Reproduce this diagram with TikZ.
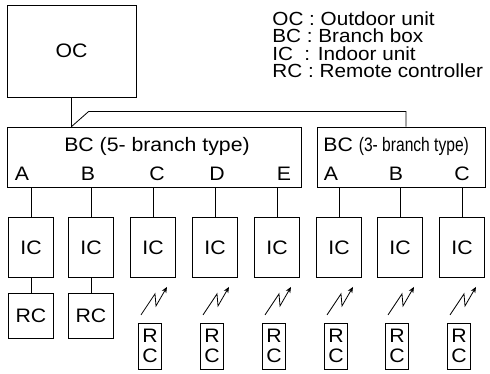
\documentclass[tikz,border=0pt]{standalone}
\usepackage{fontspec}
\setmainfont[FakeStretch=1.09]{Liberation Sans}
\newfontfamily\narrowfont[FakeStretch=0.8]{Liberation Sans}
\usetikzlibrary{arrows.meta,positioning}

\begin{document}
\begin{tikzpicture}[x=1pt, y=-1pt, line width=0.8pt,
    every node/.style={font=\fontsize{19.5}{20}\selectfont, inner sep=0pt},
    unit/.style={draw, minimum width=45pt, minimum height=60pt},
    remote/.style={draw, minimum width=45pt, minimum height=45pt},
    smallrc/.style={draw, minimum width=23pt, minimum height=46pt, align=center},
    branch/.style={draw, minimum height=60pt},
    wave/.style={-{Stealth[length=6pt,width=5pt]}, line width=0.8pt}]
  \useasboundingbox (0,0) rectangle (490,374);

  \node[draw, minimum width=129pt, minimum height=92pt] (OC) at (71.5,51) {OC};
  \node[anchor=north west, align=left, font=\fontsize{19}{17.5}\selectfont] (key) at (272,11)
    {OC : Outdoor unit\\BC : Branch box\\\makebox[32pt][l]{IC}: Indoor unit\\RC : Remote controller};

  % branch boxes
  \node[branch, minimum width=294pt] (BC5) at (154,157) {};
  \node[branch, minimum width=168pt] (BC3) at (401,157) {};
  \node[anchor=base] (title5) at (157,152) {BC (5- branch type)};
  \node[anchor=base west] (title3) at (323,152) {BC {\narrowfont(3- branch type)}};
  \foreach \p/\x in {A/22,B/88,C/157,D/217,E/284}
    \node[anchor=base] (p5\p) at (\x,181) {\p};
  \foreach \p/\x in {A/331,B/396,C/462}
    \node[anchor=base] (p3\p) at (\x,181) {\p};

  \coordinate (split) at (OC.south |- BC5.north);
  \draw (OC.south) -- (split);
  \draw (split) -- ++(17,-15) -| ([xshift=5pt]BC3.north);

  % indoor units
  \foreach \n/\x in {1/31,2/91,3/153,4/215,5/277,6/339,7/400,8/462}
    \node[unit] (IC\n) at (\x,247.5) {IC};
  \foreach \n in {1,...,5}
    \draw (IC\n.north) -- (IC\n.north |- BC5.south);
  \foreach \n in {6,7,8}
    \draw (IC\n.north) -- (IC\n.north |- BC3.south);

  % remote controllers
  \node[remote, below=15pt of IC1] (RC1) {RC};
  \node[remote, below=15pt of IC2] (RC2) {RC};
  \draw (IC1) -- (RC1);
  \draw (IC2) -- (RC2);
  \foreach \n in {3,...,8} {
    \node[smallrc, below=45pt of IC\n, xshift=-3pt] (RC\n) {R\\C};
    \draw[wave, shift={(IC\n.south)}] (-12,37) -- (2,16) -- (3,28) -- (14,9);
  }
\end{tikzpicture}
\end{document}
